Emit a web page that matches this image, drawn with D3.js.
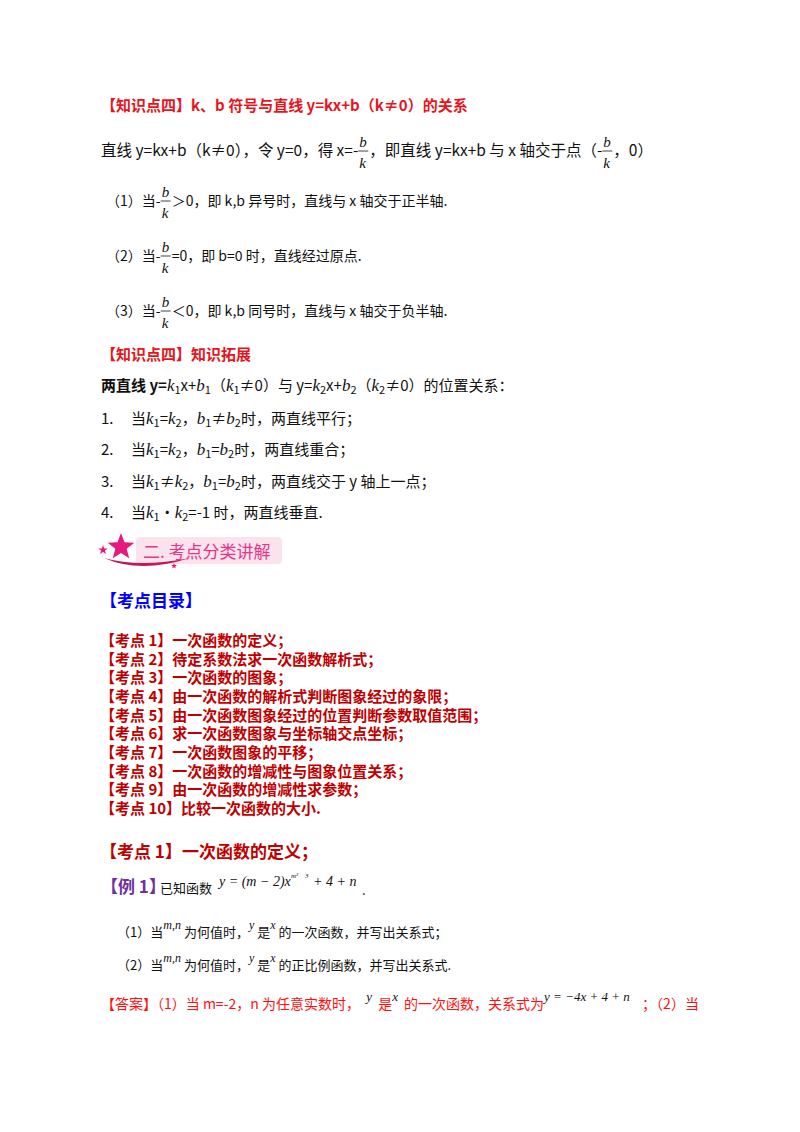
<!DOCTYPE html>
<html><head><meta charset="utf-8">
<script src="https://cdn.jsdelivr.net/npm/d3@7"></script>
<style>body{margin:0;background:#fff}svg{display:block}text{white-space:pre}</style>
</head><body>
<script>
// ---- content data ----
const title1 = "【知识点四】k、b 符号与直线 y=kx+b（k≠0）的关系";
const line1 = [["直线 y=kx+b（k≠0），令 y=0，得 x=-"],["frac"],["，即直线 y=kx+b 与 x 轴交于点（-"],["frac"],["，0）"]];
const cases = [
  [["（1）当-"],["frac"],["＞0，即 k,b 异号时，直线与 x 轴交于正半轴."]],
  [["（2）当-"],["frac"],["=0，即 b=0 时，直线经过原点."]],
  [["（3）当-"],["frac"],["＜0，即 k,b 同号时，直线与 x 轴交于负半轴."]]
];
const title2 = "【知识点四】知识拓展";
const twoLines = [["两直线 y=","b"],["k","i"],["1","s"],["x+"],["b","i"],["1","s"],["（"],["k","i"],["1","s"],["≠0）与 y="],["k","i"],["2","s"],["x+"],["b","i"],["2","s"],["（"],["k","i"],["2","s"],["≠0）的位置关系："]];
const relNums = ["1.","2.","3.","4."];
const relations = [
  [["当"],["k","i"],["1","s"],["="],["k","i"],["2","s"],["，"],["b","i"],["1","s"],["≠"],["b","i"],["2","s"],["时，两直线平行；"]],
  [["当"],["k","i"],["1","s"],["="],["k","i"],["2","s"],["，"],["b","i"],["1","s"],["="],["b","i"],["2","s"],["时，两直线重合；"]],
  [["当"],["k","i"],["1","s"],["≠"],["k","i"],["2","s"],["，"],["b","i"],["1","s"],["="],["b","i"],["2","s"],["时，两直线交于 y 轴上一点；"]],
  [["当"],["k","i"],["1","s"],["·"],["k","i"],["2","s"],["=-1 时，两直线垂直."]]
];
const banner = "二. 考点分类讲解";
const catalogTitle = "【考点目录】";
const catalog = ["【考点 1】一次函数的定义；","【考点 2】待定系数法求一次函数解析式；","【考点 3】一次函数的图象；",
 "【考点 4】由一次函数的解析式判断图象经过的象限；","【考点 5】由一次函数图象经过的位置判断参数取值范围；",
 "【考点 6】求一次函数图象与坐标轴交点坐标；","【考点 7】一次函数图象的平移；","【考点 8】一次函数的增减性与图象位置关系；",
 "【考点 9】由一次函数的增减性求参数；","【考点 10】比较一次函数的大小."];
const sectionTitle = "【考点 1】一次函数的定义；";
const exLabel = "【例 1】";
const questions = [
  [["（1）当"],["m,n","sup"],["为何值时，"],["y","sup"],["是"],["x","sup"],["的一次函数，并写出关系式；"]],
  [["（2）当"],["m,n","sup"],["为何值时，"],["y","sup"],["是"],["x","sup"],["的正比例函数，并写出关系式."]]
];
const answer = [["【答案】（1）当 m=-2，n 为任意实数时，  "],["y","sup"],[" 是"],["x","sup"],[" 的一次函数，关系式为"],["y = −4x + 4 + n","sup"],["   ；（2）当"]];

// ---- drawing ----
const W=800,H=1132;
const svg=d3.select("body").append("svg").attr("width",W).attr("height",H);
const SANS="'Noto Sans CJK SC','Noto Sans',sans-serif";
const SERIF="'Liberation Serif','DejaVu Serif',serif";

function txt(x,y,s,o={}){
  return svg.append("text").attr("x",x).attr("y",y).text(s)
    .attr("font-family",o.ff||SANS).attr("font-size",o.fs||14).attr("fill",o.fill||"#111")
    .attr("font-weight",o.fw||"normal").attr("font-style",o.fst||"normal");
}
function rich(x,y,segs,o={}){
  let cx=x; const fs=o.fs||14; const fill=o.fill||"#111";
  segs.forEach(([s,k])=>{
    let t;
    if(s==="frac"){
      txt(cx+1,y-9,"b",{ff:SERIF,fst:"italic",fs:15,fill});
      txt(cx+1,y+12,"k",{ff:SERIF,fst:"italic",fs:15,fill});
      svg.append("line").attr("x1",cx).attr("x2",cx+10).attr("y1",y-5).attr("y2",y-5).attr("stroke",fill).attr("stroke-width",0.8);
      cx+=11; return;
    }
    if(k==="i") t=txt(cx,y,s,{ff:SERIF,fst:"italic",fs:fs+2,fill});
    else if(k==="s") t=txt(cx,y+3,s,{fs:fs-4,fill});
    else if(k==="sup") t=txt(cx,y-8,s,{ff:SERIF,fst:"italic",fs:fs-1,fill:"#111"});
    else t=txt(cx,y,s,{fs,fill,fw:k==="b"?"bold":"normal"});
    cx+=t.node().getComputedTextLength()+(k==="sup"?3:0);
  });
}

txt(101,111,title1,{fill:"#e8141c",fw:"bold",fs:15});
rich(101,156,line1,{fs:15.5});
const caseY=d3.scaleLinear().domain([0,2]).range([206,316]);
cases.forEach((c,i)=>rich(106,caseY(i),c,{fs:14}));
txt(101,360,title2,{fill:"#e8141c",fw:"bold",fs:15});
rich(101,391,twoLines,{fs:15});
const relY=d3.scaleLinear().domain([0,3]).range([424,518]);
relations.forEach((r,i)=>{txt(101,relY(i),relNums[i],{fs:15});rich(131,relY(i),r,{fs:15});});

// banner
const g=svg.append("g");
g.append("rect").attr("x",136).attr("y",537).attr("width",146).attr("height",27).attr("rx",4).attr("fill","#fbe3ee");
g.append("path").attr("d","M104,558 Q140,568 190,558 Q140,574 104,558Z").attr("fill","#c2185b");
const star=(cx,cy,R,r)=>d3.range(10).map(i=>{const a=-Math.PI/2+i*Math.PI/5,rr=i%2?r:R;return [cx+rr*Math.cos(a),cy+rr*Math.sin(a)];});
g.append("path").attr("d",d3.line()(star(121,547,14,6))+"Z").attr("fill","#e6197f");
g.append("path").attr("d",d3.line()(star(103,550,5,2))+"Z").attr("fill","#e6197f");
g.append("path").attr("d",d3.line()(star(174,566,3,1.3))+"Z").attr("fill","#e6197f");
txt(143,558,banner,{fill:"#e4368a",fs:17});

txt(100,607,catalogTitle,{fill:"#0000ff",fw:"bold",fs:17});
const catY=d3.scaleLinear().domain([0,9]).range([646,814]);
catalog.forEach((c,i)=>txt(100,catY(i),c,{fill:"#c00000",fw:"bold",fs:15}).attr("textLength",null));
txt(100,858,sectionTitle,{fill:"#c00000",fw:"bold",fs:17});

txt(101,893,exLabel,{fill:"#7030a0",fw:"bold",fs:17});
txt(160,893,"已知函数",{fs:13});
txt(219,886,"y = (m − 2)x",{ff:SERIF,fst:"italic",fs:14});
txt(291,878,"m²",{ff:SERIF,fst:"italic",fs:7});
txt(305,878,"3",{ff:SERIF,fst:"italic",fs:7});
txt(313,886,"+ 4 + n",{ff:SERIF,fst:"italic",fs:14});
txt(362,895,".",{fs:13});
const qY=d3.scaleLinear().domain([0,1]).range([937,970]);
questions.forEach((q,i)=>rich(117,qY(i),q,{fs:13}));
rich(101,1009,answer,{fill:"#ff1010",fs:14});
</script>
</body></html>
